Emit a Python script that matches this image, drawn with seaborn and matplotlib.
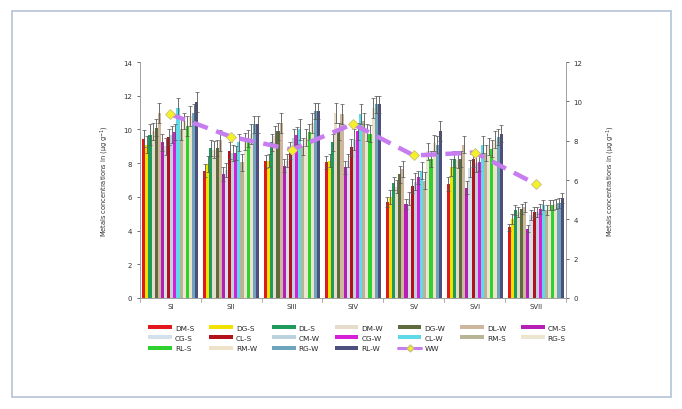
import numpy as np
import pandas as pd
import matplotlib
matplotlib.use("Agg")
import matplotlib.pyplot as plt
from matplotlib.patches import Rectangle
from matplotlib.lines import Line2D
import seaborn as sns

sites = ["SI", "SII", "SIII", "SIV", "SV", "SVI", "SVII"]
series = ["DM-S", "DG-S", "DL-S", "DM-W", "DG-W", "DL-W", "CM-S", "CG-S", "CL-S",
          "CM-W", "CG-W", "CL-W", "RM-S", "RG-S", "RL-S", "RM-W", "RG-W", "RL-W"]
colors = ["#e0191c", "#f2e200", "#1e9a5a", "#e6dccb", "#5d6b3e", "#cdb79e",
          "#b51fb5", "#d5e1ea", "#b3121a", "#bcd2de", "#d61fd6", "#5fd8ea",
          "#b7b596", "#ece5cf", "#2fd12f", "#eee3c9", "#6fa4bd", "#4d4f7c"]

# values per site (rows) for each series (columns, order as `series`)
v_SI = [9.45, 9.1, 9.7, 9.9, 10.1, 11.0, 9.25, 9.0, 9.55, 9.7, 9.85, 11.3, 10.0, 10.5, 10.2, 10.8, 11.0, 11.65]
v_SII = [7.55, 7.95, 8.9, 8.8, 8.9, 9.35, 7.35, 7.6, 8.75, 8.6, 8.6, 9.25, 8.05, 9.3, 9.45, 9.75, 10.3, 10.3]
v_SIII = [8.1, 8.15, 9.25, 9.6, 9.9, 10.4, 7.85, 8.15, 8.75, 9.5, 9.65, 10.0, 9.0, 9.5, 9.85, 10.4, 11.1, 11.1]
v_SIV = [8.05, 8.15, 9.25, 11.0, 9.9, 10.9, 7.75, 8.15, 8.95, 9.4, 9.9, 10.9, 10.5, 9.8, 9.75, 11.3, 11.5, 11.5]
v_SV = [5.7, 6.0, 6.8, 6.6, 7.35, 7.65, 5.6, 5.9, 6.65, 6.9, 7.15, 7.55, 6.95, 8.7, 8.25, 9.2, 9.1, 9.9]
v_SVI = [6.75, 7.75, 8.25, 8.2, 8.25, 9.1, 6.55, 7.7, 8.25, 8.0, 8.05, 9.1, 8.6, 9.0, 8.85, 9.4, 9.55, 9.75]
v_SVII = [4.2, 4.7, 5.2, 5.1, 5.3, 5.4, 4.1, 4.9, 5.1, 5.1, 5.3, 5.5, 5.2, 5.5, 5.5, 5.6, 5.65, 5.95]

# error bar half-lengths
e_SI = [0.5, 0.5, 0.6, 0.5, 0.5, 0.6, 0.5, 0.5, 0.5, 0.5, 0.5, 0.6, 0.6, 0.5, 0.6, 0.6, 0.5, 0.6]
e_SII = [0.4, 0.5, 0.5, 0.5, 0.5, 0.6, 0.4, 0.4, 0.5, 0.5, 0.4, 0.5, 0.5, 0.5, 0.5, 0.6, 0.5, 0.5]
e_SIII = [0.4, 0.4, 0.5, 0.6, 0.5, 0.6, 0.4, 0.4, 0.5, 0.5, 0.5, 0.6, 0.5, 0.5, 0.5, 0.6, 0.5, 0.5]
e_SIV = [0.4, 0.4, 0.5, 0.6, 0.5, 0.6, 0.4, 0.4, 0.5, 0.6, 0.5, 0.6, 0.5, 0.5, 0.5, 0.6, 0.5, 0.5]
e_SV = [0.3, 0.4, 0.4, 0.4, 0.5, 0.5, 0.3, 0.4, 0.4, 0.5, 0.4, 0.5, 0.5, 0.5, 0.5, 0.5, 0.5, 0.6]
e_SVI = [0.4, 0.5, 0.5, 0.5, 0.5, 0.5, 0.4, 0.5, 0.5, 0.5, 0.5, 0.5, 0.5, 0.5, 0.5, 0.5, 0.5, 0.5]
e_SVII = [0.2, 0.3, 0.3, 0.3, 0.3, 0.3, 0.2, 0.3, 0.3, 0.3, 0.3, 0.3, 0.3, 0.3, 0.3, 0.3, 0.3, 0.3]

ww = [9.35, 8.2, 7.55, 8.85, 7.25, 7.4, 5.8]

vals = [v_SI, v_SII, v_SIII, v_SIV, v_SV, v_SVI, v_SVII]
errs = [e_SI, e_SII, e_SIII, e_SIV, e_SV, e_SVI, e_SVII]

rows = []
for s, vv, ee in zip(sites, vals, errs):
    for name, v, e in zip(series, vv, ee):
        rows.append({"site": s, "series": name, "value": v, "err": e})
df = pd.DataFrame(rows)

sns.set_theme(style="white")
plt.rcParams["font.family"] = ["DejaVu Sans"]

fig = plt.figure(figsize=(6.82, 4.10), dpi=100)
ax = fig.add_axes([0.205, 0.271, 0.625, 0.575])

sns.barplot(data=df, x="site", y="value", hue="series", hue_order=series,
            order=sites, palette=colors, width=0.92, errorbar=None,
            saturation=1, linewidth=0, ax=ax, legend=True)

# error bars from drawn bars
for name, cont in zip(series, ax.containers):
    sub = df[df["series"] == name].set_index("site").loc[sites]
    xs = [b.get_x() + b.get_width() / 2 for b in cont]
    hs = [b.get_height() for b in cont]
    ax.errorbar(xs, hs, yerr=sub["err"].values, fmt="none", ecolor="#555555",
                elinewidth=0.6, capsize=1.2, capthick=0.5, zorder=3)

ax.set_ylim(0, 14)
ax.set_yticks(range(0, 15, 2))
ax.set_xlim(-0.5, 6.5)
ax.set_xlabel("")
ax.set_ylabel("Metals concentrations in (\u00b5g g$^{-1}$)", fontsize=4.8, color="#333333", labelpad=9)
ax.tick_params(axis="both", labelsize=5, colors="#333333", length=2, width=0.5, direction="out")
ax.tick_params(axis="x", length=0, pad=4)
for sp in ["top"]:
    ax.spines[sp].set_visible(False)
for sp in ["left", "bottom", "right"]:
    ax.spines[sp].set_color("#a0a0a0")
    ax.spines[sp].set_linewidth(0.7)
# group separators
for i in range(8):
    ax.plot([i - 0.5, i - 0.5], [0, -0.25], color="#a0a0a0", lw=0.6, clip_on=False)

ax2 = ax.twinx()
sns.lineplot(x=sites, y=ww, ax=ax2, color="#c77cf0", lw=3.2, sort=False)
ax2.lines[0].set_dashes([3.5, 2.0])
ax2.plot(range(len(sites)), ww, linestyle="none", marker="D", markersize=5.5,
         markerfacecolor="#f4f02a", markeredgecolor="#c9c27a", markeredgewidth=0.6)
ax2.set_ylim(0, 12)
ax2.set_yticks(range(0, 13, 2))
ax2.set_ylabel("Metals concentrations in (\u00b5g g$^{-1}$)", fontsize=4.8, color="#333333", labelpad=16)
ax2.tick_params(axis="y", labelsize=5, colors="#333333", length=2, width=0.5)
for sp in ["top", "left", "bottom"]:
    ax2.spines[sp].set_visible(False)
ax2.spines["right"].set_color("#a0a0a0")
ax2.spines["right"].set_linewidth(0.7)

# legend in row-major order
handles, labels = ax.get_legend_handles_labels()
ax.get_legend().remove()
handles = list(handles) + [Line2D([0], [0], color="#c77cf0", lw=2.2, marker="D",
                                 markersize=3.5, markerfacecolor="#f4f02a",
                                 markeredgecolor="#c9c27a")]
labels = list(labels) + ["WW"]
order = []
for j in range(7):
    for r in range(3):
        k = j + 7 * r
        if k < len(labels):
            order.append(k)
fig.legend([handles[k] for k in order], [labels[k] for k in order],
           loc="upper left", bbox_to_anchor=(0.208, 0.222), ncol=7,
           fontsize=5.3, frameon=False, handlelength=3.2, handleheight=0.45,
           columnspacing=2.05, labelspacing=0.6, handletextpad=0.4)

fig.patches.append(Rectangle((0.018, 0.03), 0.966, 0.94, transform=fig.transFigure,
                             fill=False, edgecolor="#b4c3d6", lw=1.2))
fig.savefig("out.png", dpi=100)
